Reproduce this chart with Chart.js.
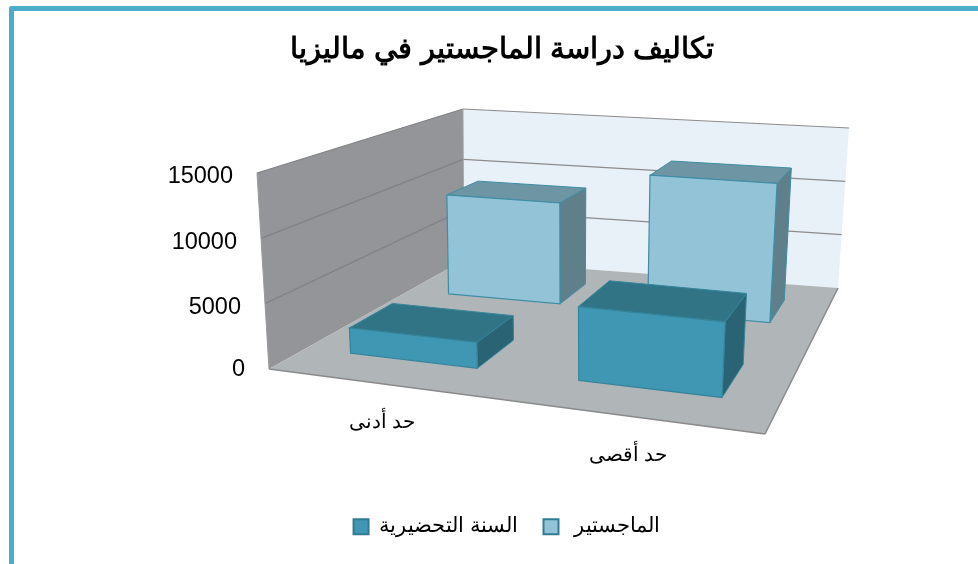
<!DOCTYPE html>
<html><head><meta charset="utf-8">
<script src="https://cdn.jsdelivr.net/npm/chart.js@4"></script>
<style>
html,body{margin:0;padding:0;background:#fff;overflow:hidden}
#frame{position:absolute;left:9px;top:6px;width:990px;height:600px;border-left:5px solid #4BADC8;border-top:5px solid #4BADC8;border-top-left-radius:3px;box-sizing:border-box}
canvas{position:absolute;left:0;top:0}
</style></head><body>
<div id="frame"></div>
<canvas id="c" width="978" height="564"></canvas>
<script>
const chartTitle = 'تكاليف دراسة الماجستير في ماليزيا';
const categories = ['حد أدنى', 'حد أقصى'];
const seriesNames = ['السنة التحضيرية', ' الماجستير'];
const prepValues = [2000, 5600];
const masterValues = [9000, 12000];
const FONT = '"Liberation Sans", Arial, sans-serif';

function homography(q){
  const [x0,y0,x1,y1,x2,y2,x3,y3]=q;
  const dx1=x1-x2,dx2=x3-x2,sx=x0-x1+x2-x3,dy1=y1-y2,dy2=y3-y2,sy=y0-y1+y2-y3;
  const den=dx1*dy2-dx2*dy1;
  const g=(sx*dy2-dx2*sy)/den,h=(dx1*sy-sx*dy1)/den;
  const a=x1-x0+g*x1,b=x3-x0+h*x3,c=x0,d=y1-y0+g*y1,e=y3-y0+h*y3,f=y0;
  return (u,v)=>{const w=g*u+h*v+1;return [(a*u+b*v+c)/w,(d*u+e*v+f)/w];};
}
const floorH = homography([269,369, 765,434, 838,288, 464,260]);
const topH   = homography([257,173, 778,219, 849,128, 463,109]);
function P(u,v,t){const a=floorH(u,v),b=topH(u,v);return [a[0]+(b[0]-a[0])*t,a[1]+(b[1]-a[1])*t];}

function poly(ctx,pts,fill,stroke,lw){
  ctx.beginPath();pts.forEach((p,i)=>i?ctx.lineTo(p[0],p[1]):ctx.moveTo(p[0],p[1]));ctx.closePath();
  if(fill){ctx.fillStyle=fill;ctx.fill();}
  if(stroke){ctx.strokeStyle=stroke;ctx.lineWidth=lw||1;ctx.stroke();}
}
function line(ctx,a,b,c,w){ctx.beginPath();ctx.moveTo(a[0],a[1]);ctx.lineTo(b[0],b[1]);ctx.strokeStyle=c;ctx.lineWidth=w;ctx.stroke();}

const seriesDepth = [[0.15,0.35],[0.655,0.85]];
const catShift = [0.008,0.009];
const catHalf = [0.148,0.138];
const faces = [
 {front:'#4097B3',top:'#317486',side:'#2A6373',edge:'#34859C'},
 {front:'#93C3D6',top:'#6E95A3',side:'#5F7F8B',edge:'#3F8DA5'}
];

const scene3d = {
  id:'scene3d',
  afterLayout(chart){
    chart.legend.left+=5;chart.legend.right+=5;
  },
  beforeDatasetsDraw(chart){
    const {ctx,scales:{x,y},chartArea:A}=chart;
    ctx.save();
    const hOf=v=>(y.getPixelForValue(0)-y.getPixelForValue(v))/(y.getPixelForValue(0)-y.getPixelForValue(y.max));
    poly(ctx,[P(0,0,0),P(0,1,0),P(0,1,1),P(0,0,1)],'#939598');
    poly(ctx,[P(0,1,0),P(1,1,0),P(1,1,1),P(0,1,1)],'#E9F1F8');
    poly(ctx,[P(0,0,0),P(1,0,0),P(1,1,0),P(0,1,0)],'#B0B5B8');
    y.ticks.forEach(t=>{
      const h=hOf(t.value);
      if(h>0){
        line(ctx,P(0,0,h),P(0,1,h),'#808285',1.2);
        line(ctx,P(0,1,h),P(1,1,h),'#8C8C8C',1.2);
      }
    });
    line(ctx,P(0,0,0),P(0,0,1),'#9a9a9a',1);
    line(ctx,P(0,1,0),P(0,1,1),'#a8a8a8',1);
    line(ctx,P(0,0,0),P(1,0,0),'#8A8A8A',1.5);
    line(ctx,P(1,0,0),P(1,1,0),'#8A8A8A',1.5);
    for(const di of [1,0]){
      const meta=chart.getDatasetMeta(di),[v0,v1]=seriesDepth[di],c=faces[di];
      meta.data.forEach((el,i)=>{
        const val=chart.data.datasets[di].data[i];
        const uc=(x.getPixelForValue(i)-A.left)/(A.right-A.left)+catShift[i];
        const u0=uc-catHalf[i],u1=uc+catHalf[i],t=hOf(val);
        poly(ctx,[P(u1,v0,0),P(u1,v1,0),P(u1,v1,t),P(u1,v0,t)],c.side,c.edge,1);
        poly(ctx,[P(u0,v0,t),P(u1,v0,t),P(u1,v1,t),P(u0,v1,t)],c.top,c.edge,1);
        poly(ctx,[P(u0,v0,0),P(u1,v0,0),P(u1,v0,t),P(u0,v0,t)],c.front,c.edge,1.2);
      });
    }
    ctx.fillStyle='#000';ctx.textBaseline='middle';
    ctx.font='23.5px '+FONT;ctx.textAlign='right';
    y.ticks.forEach(t=>{const p=P(0,0,hOf(t.value));ctx.fillText(String(t.value),p[0]-24,p[1]+(t.value?4:1));});
    ctx.font='20px '+FONT;ctx.textAlign='center';
    chart.data.labels.forEach((l,i)=>{
      const uc=(x.getPixelForValue(i)-A.left)/(A.right-A.left);
      const p=P(uc,0,0);ctx.fillText(l,p[0]+7,p[1]+40);
    });
    ctx.restore();
    return false;
  }
};

new Chart(document.getElementById('c'),{
  type:'bar',
  data:{labels:categories,datasets:[
    {label:seriesNames[0],data:prepValues,backgroundColor:'#4097B3',borderColor:'#2F7C93',borderWidth:2},
    {label:seriesNames[1],data:masterValues,backgroundColor:'#93C3D6',borderColor:'#2F7C93',borderWidth:2}
  ]},
  options:{
    responsive:false,animation:false,
    layout:{padding:{left:26,right:0,top:0,bottom:17}},
    scales:{
      x:{display:true,grid:{display:false},border:{display:false},ticks:{display:false},afterFit(s){s.height=122;}},
      y:{display:true,min:0,max:15000,ticks:{display:false,stepSize:5000},grid:{display:false},border:{display:false},afterFit(s){s.width=243;}}
    },
    plugins:{
      title:{display:true,text:chartTitle,color:'#000',font:{family:FONT,size:29,weight:'bold'},padding:{top:33,bottom:105}},
      legend:{position:'bottom',labels:{color:'#000',font:{family:FONT,size:20.5},boxWidth:15,boxHeight:15,padding:26}},
      tooltip:{enabled:false}
    }
  },
  plugins:[scene3d]
});
</script>
</body></html>
